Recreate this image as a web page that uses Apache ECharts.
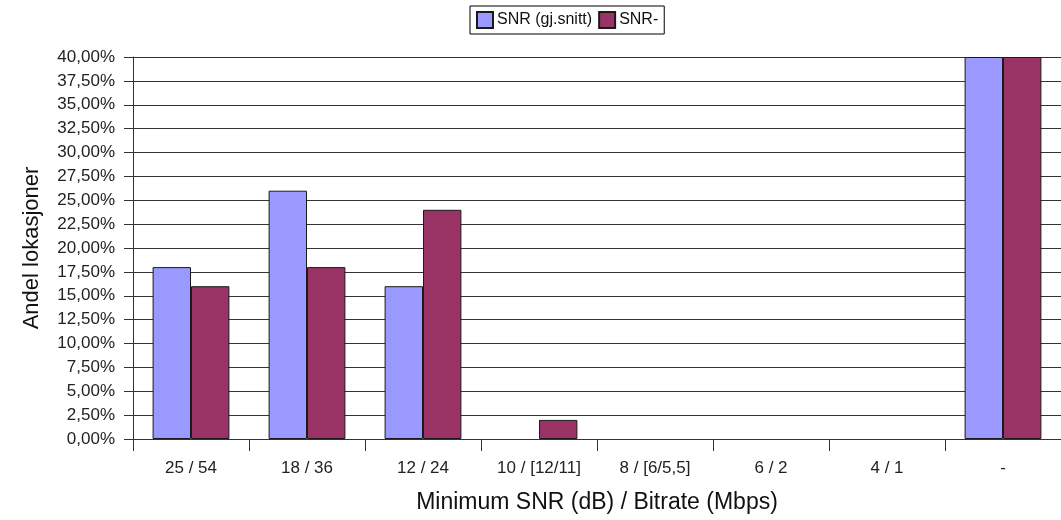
<!DOCTYPE html>
<html>
<head>
<meta charset="utf-8">
<script src="https://cdn.jsdelivr.net/npm/echarts@6/dist/echarts.min.js"></script>
<style>
  html, body { margin: 0; padding: 0; background: #fff; }
  #chart { width: 1061px; height: 520px; }
</style>
</head>
<body>
<div id="chart"></div>
<script>
// Share of locations per minimum SNR / bitrate class
const categories = ['25 / 54', '18 / 36', '12 / 24', '10 / [12/11]', '8 / [6/5,5]', '6 / 2', '4 / 1', '-'];
const seriesNames = ['SNR (gj.snitt)', 'SNR-'];
const snrAvg = [18, 26, 16, 0, 0, 0, 0, 40];
const snrMin = [16, 18, 24, 2, 0, 0, 0, 40];
const yMin = 0;
const yMax = 40;
const yStep = 2.5;

const FONT = '"Liberation Sans", Arial, sans-serif';
const fmtPct = v => v.toFixed(2).replace('.', ',') + '%';

// zero-height bars get no outline so they do not leave a line on the axis
const barData = values => values.map(v => (v === 0 ? { value: v, itemStyle: { borderWidth: 0 } } : v));

const chart = echarts.init(document.getElementById('chart'), null, { renderer: 'canvas' });
chart.setOption({
  animation: false,
  backgroundColor: '#ffffff',
  textStyle: { fontFamily: FONT },
  legend: {
    data: seriesNames,
    icon: 'rect',
    top: 6,
    left: 470,
    itemWidth: 16,
    itemHeight: 16,
    itemGap: 6,
    padding: [5, 6, 5, 6],
    borderColor: '#000',
    borderWidth: 1,
    textStyle: { fontFamily: FONT, fontSize: 16, color: '#111', padding: [0, 0, 0, -1] }
  },
  grid: { left: 133, right: -4, top: 57, bottom: 81, containLabel: false },
  xAxis: {
    type: 'category',
    data: categories,
    name: 'Minimum SNR (dB) / Bitrate (Mbps)',
    nameLocation: 'middle',
    nameGap: 52,
    nameTextStyle: { fontFamily: FONT, fontSize: 23, color: '#111' },
    axisLine: { lineStyle: { color: '#333', width: 1 } },
    axisTick: { show: true, length: 12, alignWithLabel: false, lineStyle: { color: '#333' } },
    axisLabel: { fontFamily: FONT, fontSize: 17, color: '#222', margin: 21, interval: 0 },
    splitLine: { show: false }
  },
  yAxis: {
    type: 'value',
    min: yMin,
    max: yMax,
    interval: yStep,
    name: 'Andel lokasjoner',
    nameLocation: 'middle',
    nameGap: 90,
    nameTextStyle: { fontFamily: FONT, fontSize: 22, color: '#111' },
    axisLine: { show: true, lineStyle: { color: '#333', width: 1 } },
    axisTick: { show: true, length: 9, lineStyle: { color: '#333' } },
    axisLabel: { fontFamily: FONT, fontSize: 17, color: '#222', margin: 18, formatter: fmtPct },
    splitLine: { show: true, lineStyle: { color: '#333', width: 1 } }
  },
  series: [
    {
      name: seriesNames[0],
      type: 'bar',
      data: barData(snrAvg),
      barGap: '0%',
      barCategoryGap: '33.8%',
      itemStyle: { color: '#9999ff', borderColor: '#1a1a1a', borderWidth: 1 }
    },
    {
      name: seriesNames[1],
      type: 'bar',
      data: barData(snrMin),
      itemStyle: { color: '#993366', borderColor: '#1a1a1a', borderWidth: 1 }
    }
  ]
});
</script>
</body>
</html>
